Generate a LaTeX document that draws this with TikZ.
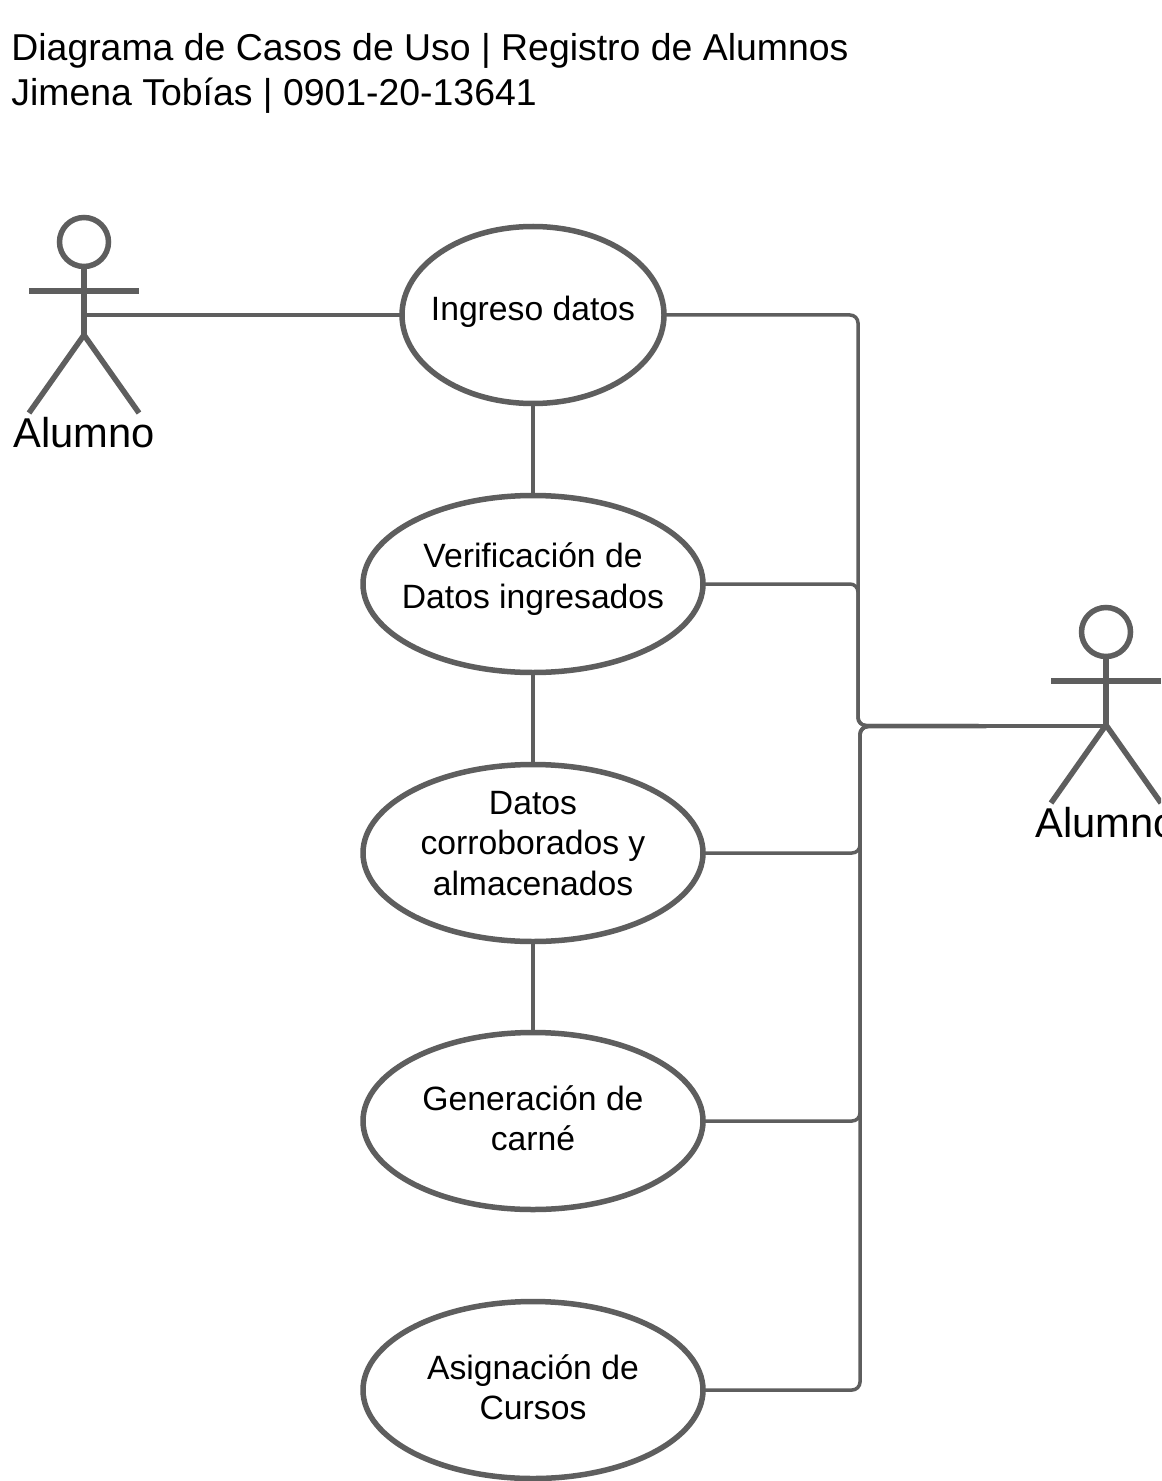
\documentclass[tikz,border=0pt]{standalone}
\usepackage{fontspec}
\setmainfont{Liberation Sans}
\usetikzlibrary{shapes.geometric}
\definecolor{ink}{HTML}{5E5E5E}
\newcommand{\uctext}[2]{\raisebox{#1}[0pt][0pt]{\makebox[0pt]{\begin{tabular}{@{}c@{}}#2\end{tabular}}}}
\newcommand{\drawactor}[3]{%
  \node[actorhead] (#1head) at (#2,#3) {};
  \coordinate (#1neck) at (#2,#3+25);
  \coordinate (#1hip) at (#2,#3+93);
  \coordinate (#1armL) at (#2-55,#3+49);
  \coordinate (#1armR) at (#2+55,#3+49);
  \coordinate (#1footL) at (#2-55,#3+171);
  \coordinate (#1footR) at (#2+55,#3+171);
  \draw[actorline] (#1neck) -- (#1hip);
  \draw[actorline,line width=3pt] (#1armL) -- (#1armR);
  \draw[actorline] (#1footL) -- (#1hip) -- (#1footR);
  \node[actorlabel] (#1label) at (#2,#3+191) {Alumno};
}
\tikzset{
  usecase/.style={draw=ink,line width=2.75pt,ellipse,inner sep=0pt,outer sep=0pt,minimum width=170pt,minimum height=88.5pt,
    font=\fontsize{16.85}{20.25}\selectfont,text=black},
  actorhead/.style={draw=ink,line width=2.75pt,circle,inner sep=0pt,minimum size=24.5pt},
  actorline/.style={draw=ink,line width=2.75pt},
  actorlabel/.style={font=\fontsize{20.85}{24}\selectfont,text=black,inner sep=0pt},
  conn/.style={draw=ink,line width=1.75pt,rounded corners=4pt},
  vlink/.style={draw=ink,line width=2pt},
  titletext/.style={anchor=north west,inner sep=0pt,align=left,font=\fontsize{18.7}{22.5}\selectfont,text=black}
}
\begin{document}
\begin{tikzpicture}[x=0.5pt,y=-0.5pt]
\useasboundingbox (0,0) rectangle (1161,1481);
\clip (0,0) rectangle (1161,1481);
\fill[white] (0,0) rectangle (1161,1481);
\node[titletext] (title) at (11,33) {Diagrama de Casos de Uso | Registro de Alumnos\\Jimena Tobías | 0901-20-13641};

\node[usecase,minimum width=131pt] (ingreso) at (533,315) {\uctext{-3.25pt}{Ingreso datos}};
\node[usecase] (verif) at (533,584) {\uctext{-2.25pt}{Verificación de\\Datos ingresados}};
\node[usecase] (datos) at (533,853) {\uctext{-1.25pt}{Datos\\corroborados y\\almacenados}};
\node[usecase] (gen) at (533,1121) {\uctext{-5.1pt}{Generación de\\carné}};
\node[usecase] (asig) at (533,1390) {\uctext{-5.1pt}{Asignación de\\Cursos}};

\drawactor{L}{84}{242}
\drawactor{R}{1106}{632}

\coordinate (Lgrip) at (84,315);
\coordinate (Rgrip) at (1106,726);
\coordinate (busU) at (858,725.5);
\coordinate (busD) at (860,726.5);

\draw[conn] (Lgrip) -- (ingreso.west);
\draw[vlink] (ingreso.south) -- (verif.north);
\draw[vlink] (verif.south) -- (datos.north);
\draw[vlink] (datos.south) -- (gen.north);

\draw[conn] (ingreso.east) -- (ingreso.east -| busU) -- (busU) -- (Rgrip);
\draw[conn] (verif.east) -- (verif.east -| busU) -- (busU) -- (Rgrip);
\draw[conn] (datos.east) -- (datos.east -| busD) -- (busD) -- (Rgrip);
\draw[conn] (gen.east) -- (gen.east -| busD) -- (busD) -- (Rgrip);
\draw[conn] (asig.east) -- (asig.east -| busD) -- (busD) -- (Rgrip);
\end{tikzpicture}
\end{document}
